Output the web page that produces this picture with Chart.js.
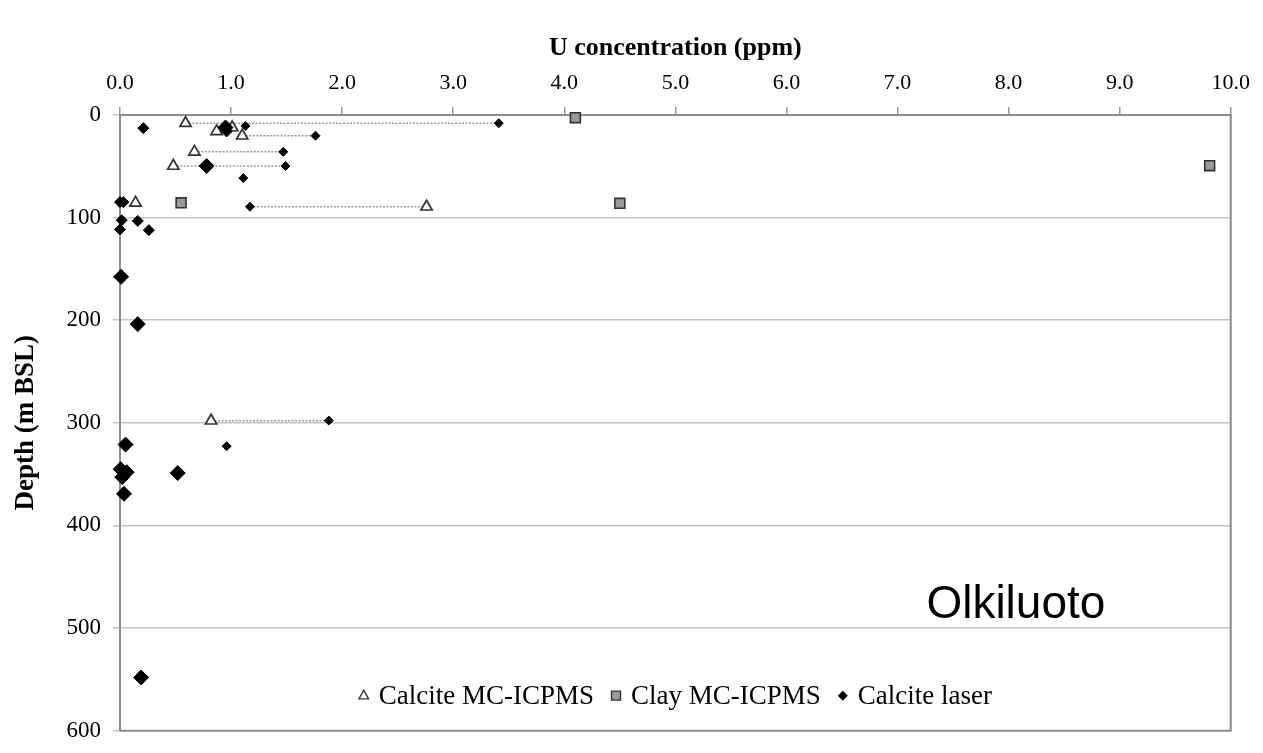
<!DOCTYPE html>
<html>
<head>
<meta charset="utf-8">
<title>U concentration vs depth - Olkiluoto</title>
<script src="https://cdn.jsdelivr.net/npm/chart.js@4.4.0/dist/chart.umd.min.js"></script>
<style>
  html, body { margin: 0; padding: 0; background: #fff; }
  #wrap { width: 1263px; height: 753px; position: relative; }
</style>
</head>
<body>
<div id="wrap"><canvas id="uChart"></canvas></div>
<script>
// values: U (ppm) against depth (m BSL)
const calciteIcpmsU     = [0.59, 0.87, 1.01, 1.10, 0.67, 0.48, 0.14, 2.76, 0.82];
const calciteIcpmsDepth = [8.0, 16.0, 12.2, 20.2, 35.9, 49.7, 85.6, 89.4, 298];

const clayIcpmsU     = [4.10, 9.81, 0.55, 4.50];
const clayIcpmsDepth = [2.6, 49.4, 85.6, 86.1];

// calcite laser spots, grouped by how big the marker is in the figure
const laserBigU       = [0.95, 0.78, 0.01, 0.16, 0.05, 0.006, 0.06, 0.02, 0.52, 0.036, 0.19];
const laserBigDepth   = [12.2, 49.7, 157.7, 203.8, 321.2, 345.2, 348.1, 352.9, 349, 369.2, 548.2];
const laserMidU       = [0.21, 0.96, 0.0, 0.03, 0.015, 0.16, 0.0, 0.26];
const laserMidDepth   = [12.8, 16.0, 84.9, 84.9, 102.6, 103.2, 111.5, 112.2];
const laserSmallU     = [1.13, 3.41, 1.76, 1.47, 1.49, 1.11, 1.17, 1.88, 0.96];
const laserSmallDepth = [10.6, 8.0, 20.2, 35.9, 49.7, 61.5, 89.4, 297.8, 322.8];

// dotted lines joining ICPMS and laser results at the same depth
const rangeDepth = [8.0, 20.2, 35.9, 49.7, 89.4, 298];
const rangeFrom  = [0.59, 1.10, 0.67, 0.48, 1.17, 0.82];
const rangeTo    = [3.41, 1.76, 1.47, 1.49, 2.76, 1.88];

const legendLabels = ['Calcite MC-ICPMS', 'Clay MC-ICPMS', 'Calcite laser'];
const siteName = 'Olkiluoto';

const serif = "'Liberation Serif', 'Times New Roman', serif";

function toPoints(xs, ys) {
  return xs.map((x, i) => ({ x: x, y: ys[i] }));
}

const rangeSets = rangeDepth.map((d, i) => ({
  label: 'range',
  data: [{ x: rangeFrom[i], y: d }, { x: rangeTo[i], y: d }],
  showLine: true,
  borderColor: '#9c9c9c',
  borderWidth: 1.5,
  borderDash: [2, 1.5],
  pointRadius: 0,
  order: 10,
  clip: false
}));

const diamond = {
  pointStyle: 'rectRot',
  backgroundColor: '#000',
  borderColor: '#000',
  borderWidth: 1,
  clip: false
};

const datasets = [
  ...rangeSets,
  {
    label: legendLabels[0],
    data: toPoints(calciteIcpmsU, calciteIcpmsDepth),
    pointStyle: 'triangle',
    pointRadius: 6.5,
    backgroundColor: '#fff',
    borderColor: '#333',
    borderWidth: 1.7,
    order: 3,
    clip: false
  },
  {
    label: legendLabels[1],
    data: toPoints(clayIcpmsU, clayIcpmsDepth),
    pointStyle: 'rect',
    pointRadius: 7,
    backgroundColor: '#9a9a9a',
    borderColor: '#333',
    borderWidth: 1.6,
    order: 2,
    clip: false
  },
  Object.assign({ label: legendLabels[2], data: toPoints(laserBigU, laserBigDepth), pointRadius: 7.5, order: 0 }, diamond),
  Object.assign({ label: 'laser-mid', data: toPoints(laserMidU, laserMidDepth), pointRadius: 5.5, order: 0 }, diamond),
  Object.assign({ label: 'laser-small', data: toPoints(laserSmallU, laserSmallDepth), pointRadius: 4.5, order: 0 }, diamond)
];

// right/bottom frame, site name and the legend inside the plot
const extras = {
  id: 'extras',
  beforeDatasetsDraw(chart) {
    const { ctx, chartArea: a } = chart;
    ctx.save();
    ctx.strokeStyle = '#8c8c8c';
    ctx.lineWidth = 2;
    ctx.beginPath();
    ctx.moveTo(a.right, a.top);
    ctx.lineTo(a.right, a.bottom);
    ctx.lineTo(a.left, a.bottom);
    ctx.stroke();
    ctx.restore();
  },
  afterDraw(chart) {
    const { ctx, chartArea: a, scales } = chart;
    ctx.save();
    ctx.fillStyle = '#000';
    ctx.font = "46px 'Liberation Sans', Arial, sans-serif";
    ctx.textBaseline = 'alphabetic';
    ctx.textAlign = 'left';
    ctx.fillText(siteName, scales.x.getPixelForValue(7.26), scales.y.getPixelForValue(490));

    ctx.font = '27px ' + serif;
    ctx.textBaseline = 'middle';
    const toText = 15, toNext = 22;
    const widths = legendLabels.map(t => ctx.measureText(t).width);
    const total = widths.reduce((s, w) => s + toText + w, 0) + toNext * (legendLabels.length - 1) + 5;
    let cx = (a.left + a.right) / 2 - total / 2 + 5;
    const cy = a.bottom - 35;
    legendLabels.forEach((t, i) => {
      ctx.beginPath();
      if (i === 0) {
        ctx.moveTo(cx, cy - 5.5);
        ctx.lineTo(cx + 4.8, cy + 3.2);
        ctx.lineTo(cx - 4.8, cy + 3.2);
        ctx.closePath();
        ctx.fillStyle = '#fff';
        ctx.fill();
        ctx.strokeStyle = '#333';
        ctx.lineWidth = 1.4;
        ctx.stroke();
      } else if (i === 1) {
        ctx.rect(cx - 4.5, cy - 4.5, 9, 9);
        ctx.fillStyle = '#9a9a9a';
        ctx.fill();
        ctx.strokeStyle = '#333';
        ctx.lineWidth = 1.4;
        ctx.stroke();
      } else {
        ctx.moveTo(cx, cy - 5);
        ctx.lineTo(cx + 5, cy);
        ctx.lineTo(cx, cy + 5);
        ctx.lineTo(cx - 5, cy);
        ctx.closePath();
        ctx.fillStyle = '#000';
        ctx.fill();
      }
      ctx.fillStyle = '#000';
      ctx.fillText(t, cx + toText, cy + 1);
      cx += toText + widths[i] + toNext;
    });
    ctx.restore();
  }
};

Chart.defaults.font.family = serif;
Chart.defaults.color = '#000';

new Chart(document.getElementById('uChart'), {
  type: 'scatter',
  data: { datasets: datasets },
  options: {
    responsive: true,
    maintainAspectRatio: false,
    animation: false,
    layout: { padding: { left: 0, top: 0, right: 25, bottom: 0 } },
    plugins: {
      legend: { display: false },
      tooltip: { enabled: false }
    },
    scales: {
      x: {
        type: 'linear',
        position: 'top',
        min: 0,
        max: 10,
        ticks: {
          stepSize: 1,
          maxRotation: 0,
          padding: 13,
          font: { size: 22, lineHeight: 1 },
          callback: v => v.toFixed(1)
        },
        grid: { drawOnChartArea: false, tickLength: 8, color: '#999', lineWidth: 1.5 },
        border: { color: '#8c8c8c', width: 2 },
        title: {
          display: true,
          text: 'U concentration (ppm)',
          font: { size: 26, weight: 'bold' },
          padding: { top: 33, bottom: 0 }
        },
        afterFit: s => { s.height = 115; }
      },
      y: {
        type: 'linear',
        reverse: true,
        min: 0,
        max: 600,
        ticks: { stepSize: 100, padding: 12, font: { size: 23, lineHeight: 0.9 } },
        grid: { color: '#c4c4c4', lineWidth: 1.5, tickLength: 7 },
        border: { color: '#8c8c8c', width: 2 },
        title: {
          display: true,
          text: 'Depth (m BSL)',
          font: { size: 27, weight: 'bold' },
          padding: { top: 10, bottom: 0 }
        },
        afterFit: s => { s.width = 120; }
      }
    }
  },
  plugins: [extras]
});
</script>
</body>
</html>
